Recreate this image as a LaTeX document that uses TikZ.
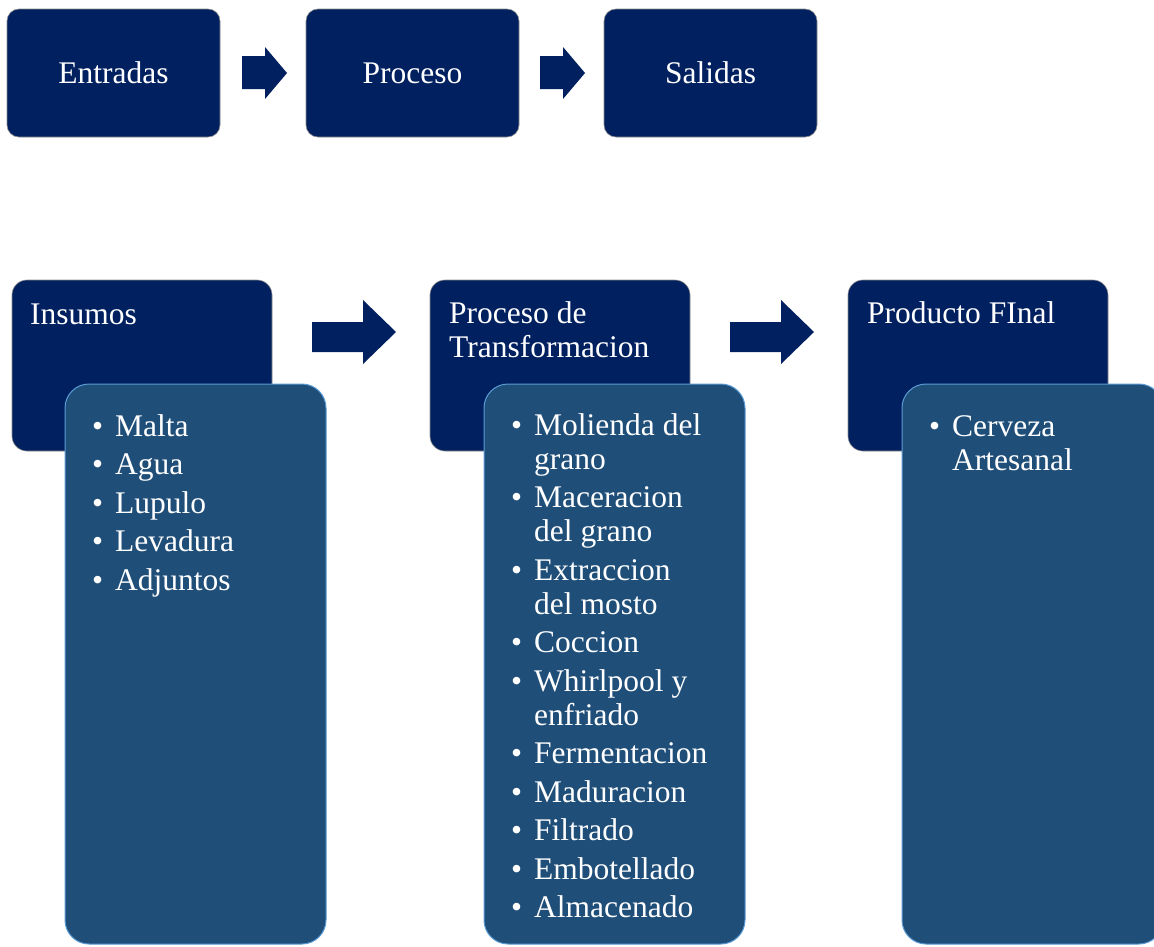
\documentclass[tikz,border=0pt]{standalone}
\usepackage{fontspec}
\setmainfont{Liberation Serif}
\definecolor{navy}{HTML}{002060}
\definecolor{steel}{HTML}{1F4E79}
\definecolor{edgeblue}{HTML}{5B9BD5}
\newcommand{\bitem}[1]{\par\hangindent=23pt\hangafter=1\noindent\makebox[23pt][l]{\textbullet}#1}
\newcommand{\nl}{\hfil\break}
\newcommand{\blist}[2]{\parbox[t]{#1}{\fontsize{31.5}{34}\selectfont\raggedright\setlength\parskip{4.5pt}#2}}
\begin{document}
\begin{tikzpicture}[x=1pt,y=-1pt,
  topbox/.style={rectangle, rounded corners=12pt, fill=navy, draw=black!45, line width=0.6pt, inner sep=0pt, outer sep=0pt, anchor=north west, minimum width=213pt, minimum height=128pt, text=white, font=\fontsize{31.5}{34}\selectfont},
  headbox/.style={rectangle, rounded corners=15pt, fill=navy, draw=black!45, line width=0.6pt, inner sep=0pt, outer sep=0pt, anchor=north west, minimum width=260pt, minimum height=171pt},
  listbox/.style={rectangle, rounded corners=24pt, fill=steel, draw=edgeblue, line width=1pt, inner sep=0pt, outer sep=0pt, anchor=north west, minimum width=261pt, minimum height=560pt},
  blockarrow/.style={fill=navy},
  headtext/.style={anchor=base west, inner sep=0pt, text=white},
  listtext/.style={anchor=base west, inner sep=0pt, text=white}
]
\useasboundingbox (0,0) rectangle (1154,946);
\fill[white] (0,0) rectangle (1154,946);

% top row
\node[topbox] (ent) at (7,9) {Entradas};
\node[topbox] (pro) at (306,9) {Proceso};
\node[topbox] (sal) at (604,9) {Salidas};
\foreach \dx/\nm in {0/a1,298/a2}{
  \begin{scope}[xshift=\dx pt]
    \coordinate (\nm) at (242,73);
    \fill[blockarrow] (242,56) -- (265,56) -- (265,47) -- (287,73) -- (265,99) -- (265,89) -- (242,89) -- cycle;
  \end{scope}
}

% bottom row: header boxes
\node[headbox] (ins) at (12,280) {};
\node[headbox] (ptr) at (430,280) {};
\node[headbox] (pfi) at (848,280) {};
\foreach \dx/\nm in {0/b1,418/b2}{
  \begin{scope}[xshift=\dx pt]
    \coordinate (\nm) at (312,332);
    \fill[blockarrow] (312,322) -- (363,322) -- (363,300) -- (396,332) -- (363,364) -- (363,352) -- (312,352) -- cycle;
  \end{scope}
}

% list boxes
\node[listbox] (insl) at (65,384) {};
\node[listbox] (ptrl) at (484,384) {};
\node[listbox] (pfil) at (902,384) {};

% header texts
\node[headtext] (inst) at (30,324) {\blist{230pt}{Insumos}};
\node[headtext] (ptrt) at (449,323) {\blist{230pt}{Proceso de\nl Transformacion}};
\node[headtext] (pfit) at (867,323) {\blist{240pt}{Producto FInal}};

% list texts
\node[listtext] (insx) at (92,436) {\blist{220pt}{%
\bitem{Malta}
\bitem{Agua}
\bitem{Lupulo}
\bitem{Levadura}
\bitem{Adjuntos}}};
\node[listtext] (ptrx) at (511,435) {\blist{230pt}{%
\bitem{Molienda del\nl grano}
\bitem{Maceracion\nl del grano}
\bitem{Extraccion\nl del mosto}
\bitem{Coccion}
\bitem{Whirlpool y\nl enfriado}
\bitem{Fermentacion}
\bitem{Maduracion}
\bitem{Filtrado}
\bitem{Embotellado}
\bitem{Almacenado}}};
\node[listtext] (pfix) at (929,436) {\blist{220pt}{%
\bitem{Cerveza\nl Artesanal}}};
\end{tikzpicture}
\end{document}
